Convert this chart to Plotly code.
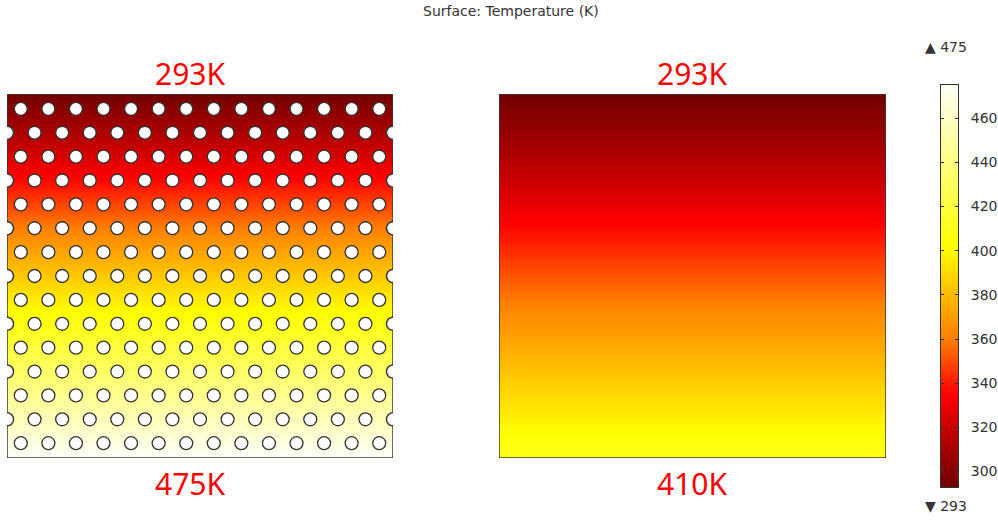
import numpy as np
import plotly.graph_objects as go

# Boundary temperatures (K) on each plate
top_temp = 293
bottom_temp_perforated = 475
bottom_temp_solid = 410

# Colour range and colourbar ticks
t_min, t_max = 293, 475
cbar_ticks = [300, 320, 340, 360, 380, 400, 420, 440, 460]

# Perforated plate geometry (units of hole pitch)
n_cols = 14
n_rows = 15
pitch = 1.0
hole_r = 0.235
plate_w = n_cols * pitch
row_dy = pitch * np.sqrt(3) / 2
plate_h = 13.2
row_margin = (plate_h - (n_rows - 1) * row_dy) / 2

heat_scale = [
    [0.00, "rgb(112,0,0)"],
    [0.12, "rgb(180,0,0)"],
    [0.23, "rgb(255,0,0)"],
    [0.37, "rgb(255,128,0)"],
    [0.60, "rgb(255,255,0)"],
    [1.00, "rgb(255,255,250)"],
]

W, H = 998, 521


def fx(p):
    return p / W


def fy(p):
    return 1 - p / H


def plate_field(t_top, t_bottom, n=364):
    edges = np.linspace(0, plate_h, n + 1)
    centers = (edges[:-1] + edges[1:]) / 2
    z = t_bottom + (t_top - t_bottom) * centers / plate_h
    return edges, z.reshape(-1, 1)


fig = go.Figure()

y_edges, z_left = plate_field(top_temp, bottom_temp_perforated)
fig.add_trace(go.Heatmap(
    x=[0, plate_w], y=y_edges, z=z_left, xaxis="x", yaxis="y",
    colorscale=heat_scale, zmin=t_min, zmax=t_max, showscale=False,
    hoverinfo="skip"))

y_edges2, z_right = plate_field(top_temp, bottom_temp_solid)
fig.add_trace(go.Heatmap(
    x=[0, plate_w], y=y_edges2, z=z_right, xaxis="x2", yaxis="y2",
    colorscale=heat_scale, zmin=t_min, zmax=t_max, showscale=False,
    hoverinfo="skip"))

# Colour bar drawn as a one-column heatmap on its own axis
cb_edges = np.linspace(t_min, t_max, 401)
cb_vals = ((cb_edges[:-1] + cb_edges[1:]) / 2).reshape(-1, 1)
fig.add_trace(go.Heatmap(
    x=[0, 1], y=cb_edges, z=cb_vals, xaxis="x3", yaxis="y3",
    colorscale=heat_scale, zmin=t_min, zmax=t_max, showscale=False,
    hoverinfo="skip"))

shapes = []
hole_line = dict(color="#333333", width=1.3)

# Interior holes on a hexagonal lattice; odd rows end in half holes at the edges
edge_rows = []
for i in range(n_rows):
    yc = plate_h - row_margin - i * row_dy
    if i % 2 == 0:
        xs = [0.5 * pitch + k * pitch for k in range(n_cols)]
    else:
        xs = [k * pitch for k in range(1, n_cols)]
        edge_rows.append(yc)
    for xc in xs:
        shapes.append(dict(type="circle", xref="x", yref="y",
                           x0=xc - hole_r, x1=xc + hole_r,
                           y0=yc - hole_r, y1=yc + hole_r,
                           fillcolor="white", line=hole_line))


def arc_pts(cx, cy, a0, a1, n=24):
    t = np.linspace(a0, a1, n)
    return [(cx + hole_r * np.cos(a), cy + hole_r * np.sin(a)) for a in t]


def path_of(points, close=False):
    s = "M " + " L ".join(f"{x:.4f},{y:.4f}" for x, y in points)
    return s + (" Z" if close else "")


# White fill inside the edge notches
for yc in edge_rows:
    shapes.append(dict(type="path", xref="x", yref="y",
                       path=path_of(arc_pts(0, yc, -np.pi / 2, np.pi / 2), True),
                       fillcolor="white", line=dict(width=0)))
    shapes.append(dict(type="path", xref="x", yref="y",
                       path=path_of(arc_pts(plate_w, yc, np.pi / 2, 3 * np.pi / 2), True),
                       fillcolor="white", line=dict(width=0)))

# Plate outline following the notches
outline = [(0, 0), (plate_w, 0)]
for yc in sorted(edge_rows):
    outline.append((plate_w, yc - hole_r))
    outline += arc_pts(plate_w, yc, -np.pi / 2, -3 * np.pi / 2)
outline += [(plate_w, plate_h), (0, plate_h)]
for yc in sorted(edge_rows, reverse=True):
    outline.append((0, yc + hole_r))
    outline += arc_pts(0, yc, np.pi / 2, -np.pi / 2)
shapes.append(dict(type="path", xref="x", yref="y", path=path_of(outline, True),
                   line=dict(color="#3a3a3a", width=1.5)))

shapes.append(dict(type="rect", xref="x2", yref="y2", x0=0, x1=plate_w,
                   y0=0, y1=plate_h, line=dict(color="#3a3a3a", width=1.5)))

label_font = dict(family="Noto Sans", size=30, color="#ff0000")
small_font = dict(family="DejaVu Sans", size=14, color="#333333")


def note(text, x, y, font, xanchor="center"):
    return dict(text=text, x=fx(x), y=fy(y), xref="paper", yref="paper",
                xanchor=xanchor, yanchor="middle", showarrow=False, font=font)


annotations = [
    note("Surface: Temperature (K)", 511, 11,
         dict(family="DejaVu Sans", size=14, color="#333333")),
    note(f"{top_temp}K", 190, 73, label_font),
    note(f"{bottom_temp_perforated}K", 190, 483, label_font),
    note(f"{top_temp}K", 692, 73, label_font),
    note(f"{bottom_temp_solid}K", 692, 483, label_font),
    note(f"▲ {t_max}", 923, 47, small_font, "left"),
    note(f"▼ {t_min}", 923, 506, small_font, "left"),
]

hidden = dict(visible=False, fixedrange=True)
fig.update_layout(
    width=W, height=H,
    margin=dict(l=0, r=0, t=0, b=0),
    paper_bgcolor="white", plot_bgcolor="white",
    showlegend=False,
    xaxis=dict(domain=[fx(7), fx(393)], range=[0, plate_w], **hidden),
    yaxis=dict(domain=[fy(458), fy(94)], range=[0, plate_h], **hidden),
    xaxis2=dict(domain=[fx(499), fx(886)], range=[0, plate_w], anchor="y2", **hidden),
    yaxis2=dict(domain=[fy(458), fy(94)], range=[0, plate_h], anchor="x2", **hidden),
    xaxis3=dict(domain=[fx(941), fx(958)], range=[0, 1], anchor="y3",
                showline=True, mirror=True, linecolor="#333333", linewidth=1,
                showticklabels=False, ticks="", showgrid=False, zeroline=False,
                fixedrange=True),
    yaxis3=dict(domain=[fy(487), fy(85)], range=[t_min, t_max], anchor="x3",
                side="right", tickvals=cbar_ticks, ticks="inside", ticklen=3,
                tickcolor="#333333", mirror="ticks", showline=True,
                linecolor="#333333", linewidth=1, showgrid=False,
                zeroline=False, ticklabelstandoff=9, fixedrange=True,
                tickfont=dict(family="DejaVu Sans", size=14, color="#333333")),
    shapes=shapes,
    annotations=annotations,
)

fig.write_html("out.html")
